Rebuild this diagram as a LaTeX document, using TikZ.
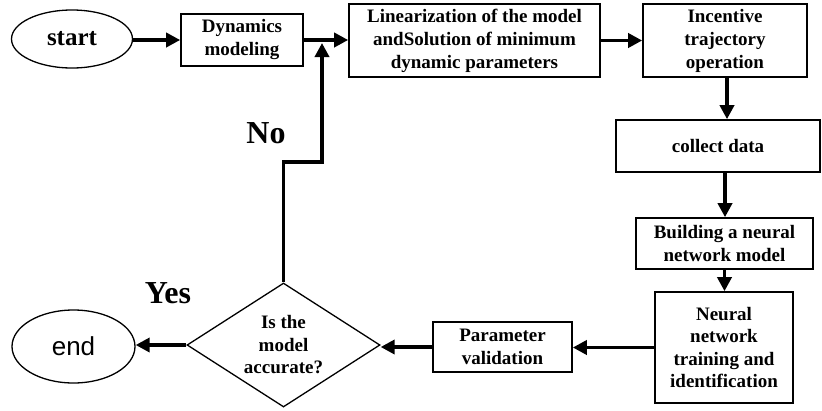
\documentclass[tikz,border=0pt]{standalone}
\usepackage{fontspec}
\setmainfont{Liberation Serif}
\newfontfamily\sansf{Liberation Sans}
\usetikzlibrary{shapes.geometric,arrows.meta}
\tikzset{
  boxnode/.style={draw, line width=1.6pt, rectangle, inner sep=0pt, align=center,
    font=\fontsize{19}{23}\selectfont\bfseries},
  ovalnode/.style={draw, line width=1.3pt, ellipse, inner sep=0pt, align=center},
  flow/.style={line width=3.6pt, -{Triangle[length=14pt,width=14pt]}},
  answer/.style={font=\fontsize{32}{36}\selectfont\bfseries}
}
\begin{document}
\begin{tikzpicture}[x=1pt,y=-1pt]
\useasboundingbox (0,0) rectangle (822,410);
\node[ovalnode, minimum width=121, minimum height=58, font=\fontsize{25}{28}\selectfont\bfseries] (start) at (72,39) {start};
\node[boxnode, minimum width=122, minimum height=52] (dyn) at (242,40) {Dynamics\\modeling};
\node[boxnode, minimum width=251, minimum height=73] (lin) at (474.5,40.5) {Linearization of the model\\andSolution of minimum\\dynamic parameters};
\node[boxnode, minimum width=164, minimum height=73] (inc) at (725,40.5) {Incentive\\trajectory\\operation};
\node[boxnode, minimum width=204, minimum height=52] (col) at (718,146) {collect data};
\node[boxnode, minimum width=177, minimum height=51] (bld) at (724.5,243.5) {Building a neural\\network model};
\node[boxnode, minimum width=138, minimum height=111, font=\fontsize{19}{22.5}\selectfont\bfseries] (nn) at (724,347.5) {Neural\\network\\training and\\identification};
\node[boxnode, minimum width=139, minimum height=50] (pv) at (502.5,347) {Parameter\\validation};
\node[draw, line width=1.3pt, diamond, minimum width=193, minimum height=124, inner sep=0pt,
  label={[align=center, font=\fontsize{19}{22.5}\selectfont\bfseries]center:Is the\\model\\accurate?}] (dec) at (283.5,345) {};
\node[ovalnode, minimum width=123, minimum height=73, font=\sansf\fontsize{26}{30}\selectfont] (end) at (73.5,346.5) {end};
\node[answer] (no) at (266,133) {No};
\node[answer] (yes) at (168,293) {Yes};
\coordinate (join) at (322,41);
\draw[flow] (start.east |- dyn.west) -- (dyn.west);
\draw[flow] (dyn.east) -- (dyn.east -| lin.west);
\draw[flow] (lin.east) -- (lin.east -| inc.west);
\draw[flow] ([xshift=2pt]inc.south) -- ([xshift=2pt]inc.south |- col.north);
\draw[flow] ([xshift=7pt]col.south) -- ([xshift=7pt]col.south |- bld.north);
\draw[flow] (bld.south) -- (bld.south |- nn.north);
\draw[flow] (nn.west) -- (nn.west -| pv.east);
\draw[flow] (pv.west) -- (pv.west -| dec.east);
\draw[flow] (dec.west) -- (dec.west -| end.east);
\draw[flow, shorten >=2pt] (dec.north) -- (dec.north |- 0,162) -- (join |- 0,162) -- (join);
\end{tikzpicture}
\end{document}
